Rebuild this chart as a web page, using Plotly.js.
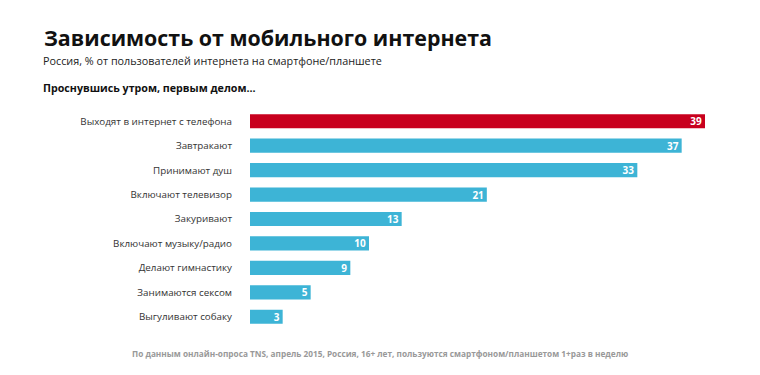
<!DOCTYPE html>
<html><head><meta charset="utf-8">
<script src="https://cdn.plot.ly/plotly-3.0.1.min.js"></script>
<style>html,body{margin:0;padding:0;background:#fff}#chart{width:760px;height:375px}</style>
</head><body><div id="chart"></div>
<script>
const categories = ["Выходят в интернет с телефона","Завтракают","Принимают душ","Включают телевизор","Закуривают","Включают музыку/радио","Делают гимнастику","Занимаются сексом","Выгуливают собаку"];
const values = [39,37,33.2,20.3,13,10.2,8.6,5.2,2.8];
const valueLabels = ["39","37","33","21","13","10","9","5","3"];
const barColors = ["#C8001E","#3DB4D6","#3DB4D6","#3DB4D6","#3DB4D6","#3DB4D6","#3DB4D6","#3DB4D6","#3DB4D6"];
const titleText = "Зависимость от мобильного интернета";
const subtitleText = "Россия, % от пользователей интернета на смартфоне/планшете";
const sectionText = "Проснувшись утром, первым делом...";
const sourceText = "По данным онлайн-опроса TNS, апрель 2015, Россия, 16+ лет, пользуются смартфоном/планшетом 1+раз в неделю";

const F = "'Open Sans', 'Noto Sans', sans-serif";
Plotly.newPlot('chart', [{
  type: 'bar', orientation: 'h',
  x: values, y: categories,
  marker: {color: barColors},
  width: 0.58,
  text: valueLabels,
  textposition: 'inside', insidetextanchor: 'end', textangle: 0, constraintext: 'none',
  textfont: {family: F, size: 10, color: '#ffffff', weight: 700},
  hoverinfo: 'none'
}], {
  width: 760, height: 375,
  margin: {l: 250, r: 55, t: 109, b: 46},
  paper_bgcolor: '#fff', plot_bgcolor: '#fff',
  showlegend: false,
  uniformtext: {mode: false},
  title: {text: titleText, font: {family: F, size: 21.4, color: '#111', weight: 700},
    xref: 'container', yref: 'container', x: 44/760, xanchor: 'left', y: 1 - 38.5/375, yanchor: 'middle'},
  xaxis: {range: [0, 39], visible: false, fixedrange: true},
  yaxis: {autorange: false, range: [8.5, -0.5], type: 'category', showgrid: false, zeroline: false, showline: false,
    ticks: '', ticklabelstandoff: 17, tickfont: {family: F, size: 9.8, color: '#333'}},
  annotations: [
    {text: subtitleText, xref: 'paper', yref: 'paper', x: -209/455, y: 1 + (109-60.5)/220.5, xanchor: 'left', yanchor: 'middle', showarrow: false,
      font: {family: F, size: 10.8, color: '#222'}},
    {text: sectionText, xref: 'paper', yref: 'paper', x: -209/455, y: 1 + (109-88)/220.5, xanchor: 'left', yanchor: 'middle', showarrow: false,
      font: {family: F, size: 10.7, color: '#111', weight: 700}},
    {text: sourceText, xref: 'paper', yref: 'paper', x: (380-250)/455, y: -(354-329.5)/220.5, xanchor: 'center', yanchor: 'middle', showarrow: false,
      font: {family: F, size: 8.25, color: '#999', weight: 700}}
  ]
}, {displayModeBar: false, staticPlot: true});
</script></body></html>
